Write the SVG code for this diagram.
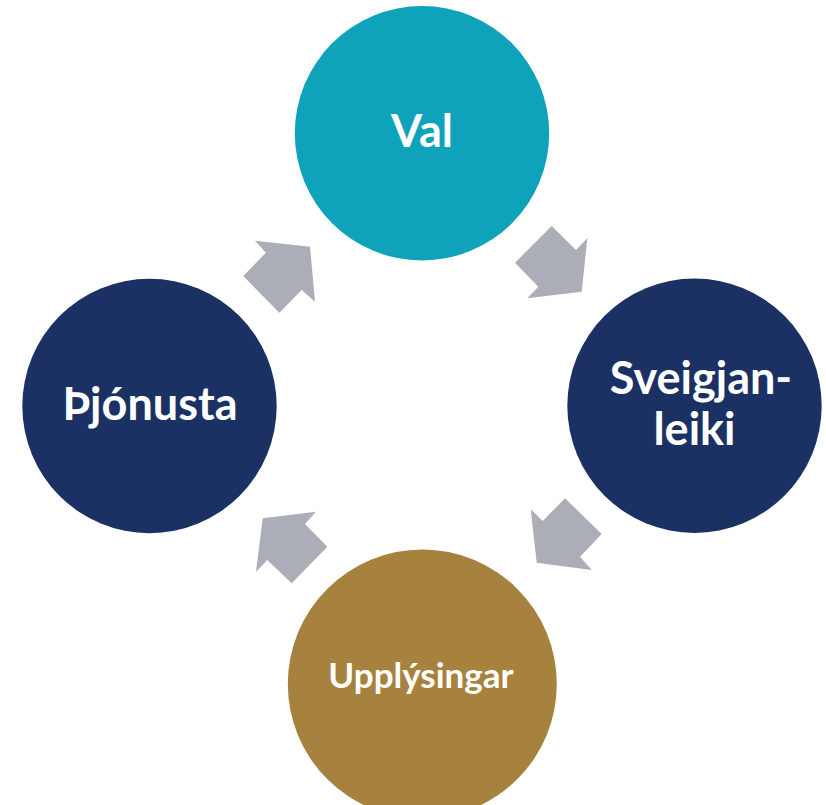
<svg xmlns="http://www.w3.org/2000/svg" width="826" height="805" viewBox="0 0 826 805">
<style>
.lbl{font-family:Lato,"Open Sans","Liberation Sans",sans-serif;font-weight:bold;fill:#ffffff;text-anchor:middle}
.big{font-size:45px}
.small{font-size:35px}
.arr{fill:#ABADB7}
</style>
<rect width="826" height="805" fill="#ffffff"/>
<g id="connectors">
<polygon class="arr" points="551.7,226 576,250 587.3,238.3 581.7,291.7 527.3,298.3 538.3,286.7 515,262.7"/>
<polygon class="arr" points="565,498.3 601.7,534 580,556.7 591.7,570 536.7,562.7 530.7,509.3 542.7,521"/>
<polygon class="arr" points="291.7,583.3 327.3,546.7 305,524 316,511.7 262.7,518.3 256,571.7 267.3,560"/>
<polygon class="arr" points="243.3,276 279.3,312.7 301.7,290 315,301.7 310,246.7 255,240.7 266,252.7"/>
</g>
<g id="val">
<circle cx="422" cy="133.3" r="127.2" fill="#0EA2BB"/>
<text class="lbl big" x="422" y="147.3">Val</text>
</g>
<g id="sveigjanleiki">
<circle cx="694.5" cy="405.8" r="127.2" fill="#1B3163"/>
<text class="lbl big" x="701" y="394.3">Sveigjan-</text>
<text class="lbl big" x="694.5" y="445">leiki</text>
</g>
<g id="upplysingar">
<circle cx="422.3" cy="684" r="134.5" fill="#A6823E"/>
<text class="lbl small" x="421" y="688.3">Upplýsingar</text>
</g>
<g id="thjonusta">
<circle cx="149.5" cy="406" r="127.2" fill="#1B3163"/>
<text class="lbl big" x="150" y="420">Þjónusta</text>
</g>
</svg>
